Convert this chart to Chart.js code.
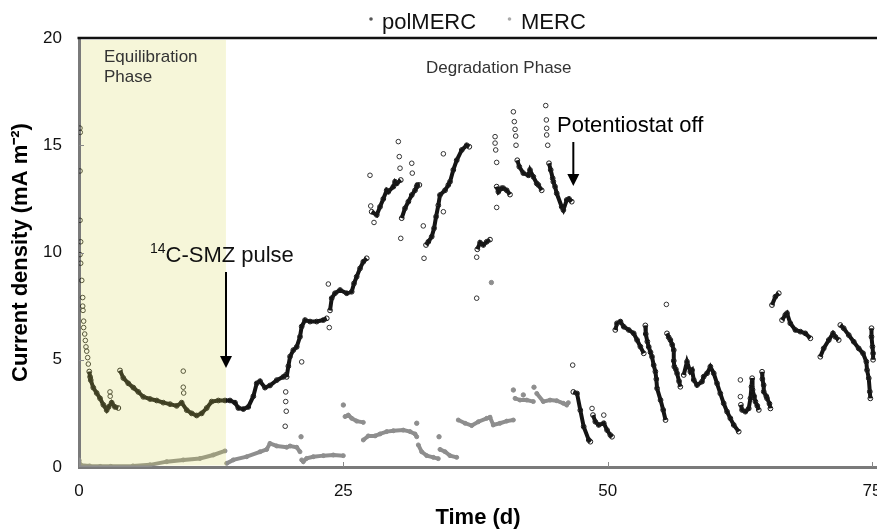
<!DOCTYPE html>
<html lang="en">
<head>
<meta charset="UTF-8">
<title>Current density vs time</title>
<style>
  body { margin: 0; background: #fff; }
  #wrap { width: 877px; height: 530px; }
</style>
</head>
<body>
<div id="wrap"><canvas id="chart" width="877" height="530"></canvas></div>
<script src="https://cdn.jsdelivr.net/npm/chart.js"></script>
<script>
// [day, current density mA m-2]; null ends a continuous run
const polRuns = [
  [0.97,4.45],[1.05,4.2],[1.11,4.05],[1.35,3.7],[1.67,3.45],[1.99,3.2],[2.3,2.9],[2.62,2.65],[2.8,2.8],[3.09,3.0],[3.4,2.8],[3.72,2.75], null,
  [3.88,4.5],[4.19,4.15],[4.66,3.9],[5.14,3.7],[5.61,3.5],[6.08,3.27],[6.72,3.17],[7.35,3.1],[7.97,3.0],[8.61,2.93],[9.24,2.85],[9.71,3.0],[10.19,2.65],[10.66,2.5],[11.13,2.4],[11.6,2.5],[12.08,2.75],[12.55,3.05],[13.18,3.1],[13.81,3.1],[14.28,3.1],[14.75,3.0],[15.07,2.75],[15.54,2.7],[16.01,2.8],[16.49,3.3],[16.81,3.9],[17.12,4.0],[17.59,3.7],[18.06,3.8],[18.7,4.05],[19.32,4.2],[19.58,4.3], null,
  [19.64,4.2],[19.8,4.7],[19.96,5.15],[20.27,5.45],[20.59,5.6],[20.9,6.07],[21.06,6.55],[21.38,6.85],[21.85,6.78],[22.48,6.78],[23.11,6.85],[23.43,6.93], null,
  [23.74,7.3],[23.9,7.87],[24.21,8.1],[24.69,8.25],[25.32,8.1],[25.79,8.17],[26.01,8.56],[26.26,8.87],[26.58,9.26],[26.89,9.57],[27.21,9.73], null,
  [27.68,11.9],[28.16,11.75],[28.47,12.13],[28.78,12.5],[29.1,12.9],[29.25,12.83],[29.73,13.07],[29.89,13.3],[30.05,13.22],[30.43,13.38], null,
  [30.52,11.6],[30.83,12.06],[31.15,12.37],[31.47,12.68],[31.78,12.9],[31.94,13.07],[32.0,13.15],[32.19,13.15], null,
  [32.82,10.35],[33.04,10.5],[33.36,10.74],[33.58,11.13],[33.77,11.67],[33.98,12.2],[34.14,12.68],[34.62,12.9],[34.93,13.15],[35.09,13.3],[35.4,13.85],[35.72,14.3],[36.2,14.78],[36.67,15.0],[36.91,14.93], null,
  [37.67,10.15],[37.93,10.46],[38.24,10.35],[38.56,10.5],[38.87,10.6], null,
  [39.5,13.07],[39.66,12.83],[39.98,13.0],[40.13,13.0],[40.45,12.9],[40.76,12.7], null,
  [41.45,14.3],[41.64,14.0],[42.02,13.7],[42.5,13.6],[42.65,13.85],[42.97,13.53],[43.29,13.22],[43.44,13.15],[43.76,12.9], null,
  [44.45,14.16],[44.61,13.85],[44.8,13.46],[44.86,13.3],[45.02,13.07],[45.18,12.76],[45.65,12.13],[45.81,11.98],[46.13,12.45],[46.34,12.5],[46.6,12.37], null,
  [46.75,3.5],[47.1,3.43],[47.41,2.65],[47.73,1.88],[48.21,1.26],[48.36,1.18], null,
  [48.61,2.42],[48.83,2.11],[49.15,1.96],[49.63,2.04],[49.94,1.72],[50.25,1.49],[50.41,1.41], null,
  [50.72,6.39],[50.88,6.7],[51.2,6.78],[51.52,6.54],[51.99,6.39],[52.46,6.23],[52.78,5.92],[53.09,5.61],[53.41,5.3], null,
  [53.56,6.6],[53.6,6.2],[53.75,5.85],[53.88,5.6],[54.05,5.35],[54.19,5.14],[54.35,4.75],[54.51,4.45],[54.6,4.1],[54.67,3.67],[55.0,3.12],[55.25,2.66],[55.47,2.19], null,
  [55.61,6.23],[55.77,6.05],[55.93,5.92],[56.1,5.7],[56.25,5.45],[56.25,4.95],[56.3,4.68],[56.45,4.55],[56.56,4.37],[56.75,4.0],[56.87,3.74], null,
  [57.19,4.29],[57.5,4.91],[57.82,4.44],[57.98,4.52],[58.14,4.06],[58.45,3.82],[58.92,3.98],[59.08,4.21],[59.4,4.37],[59.71,4.68],[60.03,4.37],[60.34,3.9],[60.65,3.43],[60.97,2.97],[61.29,2.58],[61.6,2.27],[61.92,1.96],[62.39,1.65], null,
  [62.6,2.9],[62.71,2.66],[63.02,2.58],[63.34,2.73],[63.5,3.2],[63.6,3.74],[63.66,4.14],[63.7,3.6],[63.85,3.3],[63.97,3.05],[64.15,2.85],[64.29,2.66], null,
  [64.6,4.44],[64.63,4.1],[64.75,3.82],[64.76,3.51],[65.0,3.3],[65.07,3.2],[65.3,2.95],[65.39,2.73], null,
  [65.54,7.55],[65.86,7.94],[66.18,8.1], null,
  [66.49,6.85],[66.8,7.09],[66.96,7.17],[67.27,6.7],[67.75,6.39],[68.22,6.31],[68.69,6.23],[69.17,6.0], null,
  [70.11,5.14],[70.43,5.53],[70.91,5.92],[71.31,6.23],[71.53,6.07],[71.85,5.92], null,
  [72.0,6.62],[72.32,6.47],[72.8,6.15],[73.27,5.84],[73.74,5.53],[74.15,5.3],[74.46,4.91],[74.53,4.52],[74.69,4.14],[74.79,3.51],[74.84,3.2], null,
  [74.95,6.47],[74.95,6.07],[75.04,5.61],[75.1,5.3],[75.1,5.0]
];

// isolated polMERC readings
const polDots = [
  [0.09,15.8],[0.12,15.6],[0.1,13.8],[0.1,11.5],[0.16,10.5],[0.1,9.9],[0.16,9.5],[0.26,8.7],[0.35,7.9],[0.35,7.5],[0.38,7.3],
  [0.44,6.8],[0.44,6.5],[0.54,6.2],[0.6,5.9],[0.66,5.6],[0.73,5.4],[0.82,5.1],[0.88,4.8],
  [2.93,3.5],[2.95,3.3],[9.86,4.47],[9.86,3.72],[9.9,3.45],
  [19.55,3.5],[19.55,3.05],[19.6,2.6],[19.5,1.9],[21.06,4.9],[23.67,6.5],[23.58,8.53],
  [27.59,12.17],[27.9,11.4],[27.52,13.6],[30.2,15.17],[30.29,14.47],[30.36,13.93],[30.43,10.66],
  [31.47,14.16],[31.52,13.7],[32.56,11.24],[32.63,9.73],[34.46,11.9],[34.46,14.6],[37.61,7.87],[37.61,9.78],
  [39.35,15.4],[39.35,15.1],[39.41,14.78],[39.5,14.2],[39.5,12.1],
  [41.08,16.56],[41.17,16.1],[41.24,15.74],[41.3,15.43],[41.33,15.0],
  [44.14,16.85],[44.2,16.18],[44.23,15.79],[44.23,15.48],[44.33,15.0],
  [46.69,4.75],[48.52,2.73],[49.63,2.42],[55.55,7.58],[62.55,4.06],[62.55,3.28]
];

const mercRuns = [
  [0.0,0.33],[0.05,0.15],[0.2,0.08],[1.0,0.05],[2.0,0.03],[3.0,0.03],[5.1,0.05],[6.72,0.1],[8.29,0.25],[9.86,0.33],[11.44,0.4],[12.7,0.56],[13.81,0.75], null,
  [13.97,0.17],[14.59,0.33],[15.86,0.48],[17.12,0.71],[17.75,0.82],[18.06,1.1],[18.7,0.98],[19.64,0.92],[19.96,0.98],[20.59,0.92],[20.9,0.71], null,
  [21.06,0.33],[21.21,0.25],[21.53,0.4],[22.16,0.48],[23.11,0.53],[24.05,0.56],[25.0,0.53], null,
  [25.16,2.35],[25.47,2.42],[25.79,2.27],[26.26,2.14],[26.89,2.08], null,
  [26.89,1.26],[27.36,1.45],[28.0,1.45],[28.47,1.54],[29.1,1.65],[29.73,1.69],[30.67,1.72],[31.31,1.65],[31.78,1.54],[31.94,1.41], null,
  [32.09,1.03],[32.41,0.71],[32.89,0.53],[33.51,0.45],[33.98,0.39], null,
  [34.14,0.82],[34.62,0.71],[35.09,0.53],[35.72,0.45], null,
  [35.87,2.19],[36.51,2.04],[37.14,1.93],[37.77,2.11],[38.56,2.27],[38.87,2.32],[39.18,1.96],[39.82,2.04],[40.45,2.14],[41.08,2.19], null,
  [41.24,3.2],[41.71,3.12],[42.34,3.12],[42.97,3.05], null,
  [43.29,3.43],[43.91,3.05],[44.55,3.12],[45.18,3.09],[45.81,2.97],[46.12,2.89],[46.28,3.0]
];

const mercDots = [
  [21.0,1.41],[25.0,2.89],[31.94,2.04],[34.05,1.41],[39.0,8.6],[41.08,3.59],[42.02,3.36],[43.03,3.72]
];

const xTicks = [0, 25, 50, 75];
const yTicks = [0, 5, 10, 15, 20];
const equilEnd = 13.9;      // day of the 14C-SMZ pulse
const offDay = 46.75;       // potentiostat switched off

const FONT = "'Liberation Sans', Arial, Helvetica, sans-serif";
Chart.defaults.font.family = FONT;

function toPoints(list) {
  let lastX = 0;
  return list.map(p => {
    if (!p) return {x: lastX, y: null};
    lastX = p[0];
    return {x: p[0], y: p[1]};
  });
}

function arrow(ctx, x, y0, y1) {
  ctx.strokeStyle = '#000';
  ctx.fillStyle = '#000';
  ctx.lineWidth = 2;
  ctx.beginPath();
  ctx.moveTo(x, y0);
  ctx.lineTo(x, y1 - 8);
  ctx.stroke();
  ctx.beginPath();
  ctx.moveTo(x - 6, y1 - 12);
  ctx.lineTo(x + 6, y1 - 12);
  ctx.lineTo(x, y1);
  ctx.closePath();
  ctx.fill();
}

const decor = {
  id: 'decor',
  afterDatasetsDraw(chart) {
    const {ctx, chartArea: a, scales: {x}} = chart;
    const x0 = x.getPixelForValue(0) + 2;
    const x1 = x.getPixelForValue(equilEnd);
    ctx.save();
    ctx.fillStyle = 'rgba(215,215,80,0.22)';
    ctx.fillRect(x0, a.top + 2, x1 - x0, a.bottom - a.top - 3.5);
    ctx.restore();
  },
  afterDraw(chart) {
    const {ctx, chartArea: a, scales: {x, y}} = chart;
    ctx.save();

    // top frame line
    ctx.strokeStyle = '#111';
    ctx.lineWidth = 2.5;
    ctx.beginPath();
    ctx.moveTo(a.left - 1.5, a.top);
    ctx.lineTo(a.right, a.top);
    ctx.stroke();

    // inner tick marks
    ctx.strokeStyle = '#888';
    ctx.lineWidth = 1;
    yTicks.slice(1, -1).forEach(v => {
      const py = Math.round(y.getPixelForValue(v)) + 0.5;
      ctx.beginPath(); ctx.moveTo(a.left, py); ctx.lineTo(a.left + 5, py); ctx.stroke();
    });
    xTicks.slice(1).forEach(v => {
      const px = Math.round(x.getPixelForValue(v)) + 0.5;
      ctx.beginPath(); ctx.moveTo(px, a.bottom); ctx.lineTo(px, a.bottom - 5); ctx.stroke();
    });

    // phase labels
    ctx.fillStyle = '#333';
    ctx.font = '17px ' + FONT;
    ctx.textBaseline = 'alphabetic';
    ctx.fillText('Equilibration', 104, 62);
    ctx.fillText('Phase', 104, 82);
    ctx.fillText('Degradation Phase', 426, 73);

    // pulse annotation
    ctx.fillStyle = '#111';
    ctx.font = '14px ' + FONT;
    ctx.fillText('14', 150, 253);
    ctx.font = '22px ' + FONT;
    ctx.fillText('C-SMZ pulse', 165.5, 262);
    arrow(ctx, x.getPixelForValue(equilEnd), 272, 368);

    // potentiostat annotation
    ctx.fillText('Potentiostat off', 557, 132);
    arrow(ctx, x.getPixelForValue(offDay), 142, 186);

    // legend
    ctx.font = '22px ' + FONT;
    ctx.fillStyle = '#555';
    ctx.beginPath(); ctx.arc(371, 19, 1.8, 0, Math.PI * 2); ctx.fill();
    ctx.fillStyle = '#111';
    ctx.fillText('polMERC', 382, 28.5);
    ctx.fillStyle = '#aaa';
    ctx.beginPath(); ctx.arc(509.5, 19, 1.8, 0, Math.PI * 2); ctx.fill();
    ctx.fillStyle = '#111';
    ctx.fillText('MERC', 521, 28.5);

    ctx.restore();
  }
};

new Chart(document.getElementById('chart'), {
  type: 'scatter',
  data: {
    datasets: [
      {
        label: 'polMERC',
        data: toPoints(polRuns),
        showLine: true,
        borderColor: '#141414',
        borderWidth: 4,
        pointRadius: 2.4,
        pointBorderWidth: 1,
        pointBorderColor: '#1c1c1c',
        pointBackgroundColor: 'rgba(255,255,255,0)'
      },
      {
        label: 'polMERC dots',
        data: toPoints(polDots),
        showLine: false,
        pointRadius: 2.3,
        pointBorderWidth: 1,
        pointBorderColor: '#333',
        pointBackgroundColor: 'rgba(255,255,255,0)'
      },
      {
        label: 'MERC',
        data: toPoints(mercRuns),
        showLine: true,
        borderColor: '#8e8e8e',
        borderWidth: 4,
        pointRadius: 2,
        pointBorderWidth: 1,
        pointBorderColor: '#8e8e8e',
        pointBackgroundColor: '#8e8e8e'
      },
      {
        label: 'MERC dots',
        data: toPoints(mercDots),
        showLine: false,
        pointRadius: 2.2,
        pointBorderWidth: 1,
        pointBorderColor: '#8e8e8e',
        pointBackgroundColor: '#8e8e8e'
      }
    ]
  },
  options: {
    responsive: false,
    animation: false,
    events: [],
    layout: { autoPadding: false, padding: { top: 38, left: 0, right: 0, bottom: 0 } },
    plugins: {
      legend: { display: false },
      tooltip: { enabled: false }
    },
    scales: {
      x: {
        type: 'linear',
        min: 0,
        max: 75.47,
        afterBuildTicks: s => { s.ticks = xTicks.map(v => ({value: v})); },
        ticks: { font: { size: 17 }, color: '#111', padding: 14, maxRotation: 0, autoSkip: false },
        grid: { display: false, drawTicks: false },
        border: { display: true, color: '#7a7a7a', width: 3 },
        title: {
          display: true,
          text: 'Time (d)',
          color: '#000',
          font: { size: 22, weight: 'bold', lineHeight: 1 },
          padding: { top: 0, bottom: 1 }
        },
        afterFit: s => { s.height = 63; s.paddingLeft = 0; s.paddingRight = 0; }
      },
      y: {
        min: 0,
        max: 20,
        afterBuildTicks: s => { s.ticks = yTicks.map(v => ({value: v})); },
        ticks: { font: { size: 17 }, color: '#111', padding: 17 },
        grid: { display: false, drawTicks: false },
        border: { display: true, color: '#7a7a7a', width: 3 },
        title: {
          display: true,
          text: 'Current density (mA m⁻²)',
          color: '#000',
          font: { size: 22, weight: 'bold', lineHeight: 1 },
          padding: { top: 10, bottom: 0 }
        },
        afterFit: s => { s.width = 79; s.paddingTop = 0; s.paddingBottom = 0; }
      }
    }
  },
  plugins: [decor]
});
</script>
</body>
</html>
